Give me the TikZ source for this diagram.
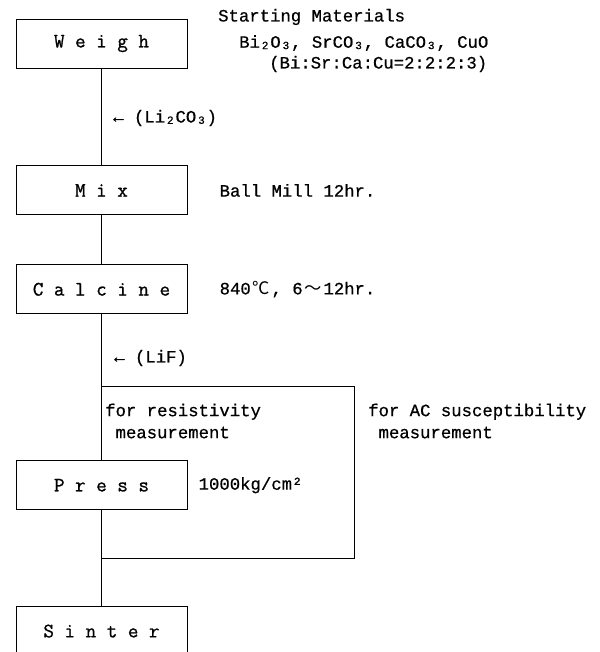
\documentclass[tikz,border=0pt]{standalone}
\usepackage{fontspec}
\setmonofont[FakeBold=0.6]{Liberation Mono}
\newfontfamily\labelfont[FakeBold=1]{Latin Modern Mono}
\newfontfamily\cjk{Noto Sans CJK JP}
\usetikzlibrary{positioning}

% full-pitch subscript digit
\newcommand{\subnum}[1]{\makebox[0.6em]{\raisebox{-0.15ex}{\fontsize{11}{11}\selectfont #1}}}

\begin{document}
\begin{tikzpicture}[
  x=1pt, y=-1pt,
  stepbox/.style={draw, line width=0.9pt, minimum width=171pt, minimum height=49pt, inner sep=0pt, font=\fontsize{20.5}{24}\labelfont},
  note/.style={anchor=west, inner sep=0pt, align=left, font=\fontsize{17.3}{22}\ttfamily},
  line/.style={draw, line width=0.7pt}
]
\useasboundingbox (0,0) rectangle (599,652);

% Process steps
\node (weigh)   [stepbox] at (101.5,43.5) {W e i g h};
\node (mix)     [stepbox, below=97pt of weigh] {M i x};
\node (calcine) [stepbox, below=49pt of mix] {C a l c i n e};
\node (press)   [stepbox, below=146pt of calcine] {P r e s s};
\node (sinter)  [stepbox, below=96pt of press] {S i n t e r};

% Notes
\node (start)  [note] at (218,17) {Starting Materials};
\node (oxides) [note] at (239,43) {Bi\subnum{2}O\subnum{3}, SrCO\subnum{3}, CaCO\subnum{3}, CuO};
\node (ratio)  [note] at (269,64) {(Bi:Sr:Ca:Cu=2:2:2:3)};
\node (licarb) [note] at (113,118) {← (Li\subnum{2}CO\subnum{3})};
\node (mill)   [note, right=32pt of mix] {Ball Mill 12hr.};
\node (temp)   [note, right=32pt of calcine] {840\makebox[1.2em]{\cjk ℃}, 6\makebox[1.2em]{\cjk ～}12hr.};
\node (lif)    [note] at (114,358) {← (LiF)};
\node (resist) [note] at (105,421) {for resistivity\\\hspace*{0.6em}measurement};
\node (acsus)  [note] at (368,421) {for AC susceptibility\\\hspace*{0.6em}measurement};
\node (load)   [note, right=11pt of press] {1000kg/cm²};

% Branch points
\path (calcine.south) ++(0,72) coordinate (split);
\path (press.south) ++(0,48) coordinate (join);

% Connections
\draw [line] (weigh) -- (mix);
\draw [line] (mix) -- (calcine);
\draw [line] (calcine) -- (press);
\draw [line] (press) -- (sinter);
\draw [line] (split) -- ++(253,0) |- (join);

\end{tikzpicture}
\end{document}
